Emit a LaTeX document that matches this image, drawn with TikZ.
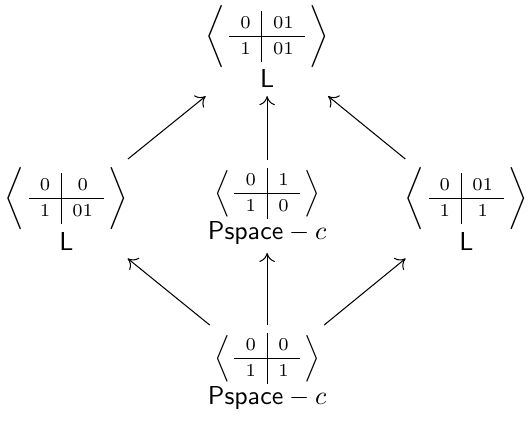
\documentclass[tikz,border=0pt]{standalone}
\usetikzlibrary{arrows.meta, positioning}
\newcommand{\qtab}[4]{\vcenter{\hbox{\scriptsize$\arraycolsep=4.3pt\def\arraystretch{1.2}\begin{array}{c|c} #1 & #2 \\ \hline #3 & #4 \end{array}$}}}

\begin{document}
\begin{tikzpicture}[cls/.style={anchor=north, align=center, inner sep=3pt}, >={To[length=3.5pt,width=6pt]}]
  \useasboundingbox (0,0) rectangle (7.155,5.705);

  % Klasse oben
  \node[cls] (top) at (3.62,5.75) {$\biggl\langle\,\qtab{0}{01}{1}{01}\,\biggr\rangle$\\\textsf{L}};

  % mittlere Reihe
  \node[cls] (left) at (0.9,3.55) {$\biggl\langle\,\qtab{0}{0}{1}{01}\,\biggr\rangle$\\\textsf{L}};
  \node[cls] (mid) at (3.62,3.54) {$\Bigl\langle\,\qtab{0}{1}{1}{0}\,\Bigr\rangle$\\$\mathsf{Pspace}-c$};
  \node[cls] (right) at (6.32,3.55) {$\biggl\langle\,\qtab{0}{01}{1}{1}\,\biggr\rangle$\\\textsf{L}};

  % Klasse unten
  \node[cls] (bot) at (3.62,1.30) {$\Bigl\langle\,\qtab{0}{0}{1}{1}\,\Bigr\rangle$\\$\mathsf{Pspace}-c$};

  % Pfeile
  \draw[->] (left) -- (top);
  \draw[->] (mid) -- (top);
  \draw[->] (right) -- (top);
  \draw[->] (bot) -- (left);
  \draw[->] (bot) -- (mid);
  \draw[->] (bot) -- (right);
\end{tikzpicture}
\end{document}
